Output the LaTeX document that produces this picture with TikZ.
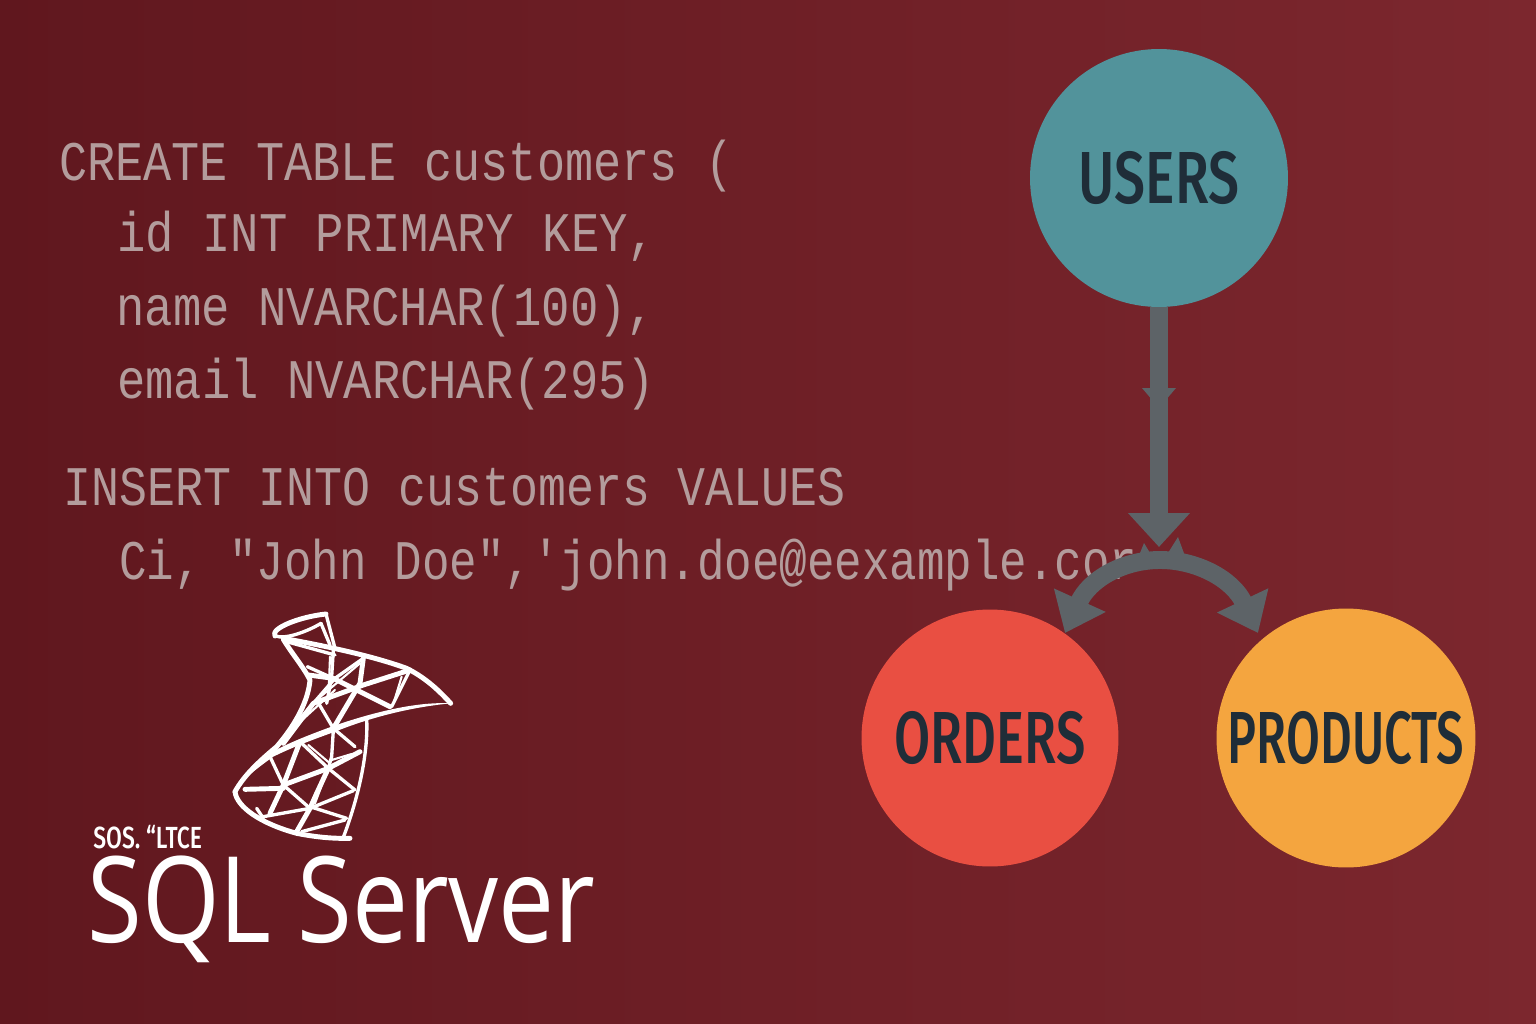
\documentclass[tikz,border=0pt]{standalone}
\usepackage{graphicx}
\usepackage{fontspec}
\usetikzlibrary{arrows.meta}
\newfontfamily\codefont{Liberation Mono}
\newfontfamily\labelfont{Fira Sans Medium}
\newfontfamily\brandfont{Open Sans}
\definecolor{bgleft}{HTML}{60171E}
\definecolor{bgmid}{HTML}{6E1F26}
\definecolor{bgright}{HTML}{7C272E}
\definecolor{codegrey}{HTML}{B39C9C}
\definecolor{flowgrey}{HTML}{5D6367}
\definecolor{labeldark}{HTML}{1F2D38}
\tikzset{
  codeline/.style={anchor=base west,inner sep=0pt,text=codegrey,font=\codefont\fontsize{26.5pt}{30pt}\selectfont},
  tablecircle/.style={circle,inner sep=0pt,outer sep=0pt,text=labeldark,font=\labelfont\fontsize{42pt}{46pt}\selectfont},
  flowline/.style={draw=flowgrey,line width=10.2pt},
  logoline/.style={draw=white,line width=1.9pt,line cap=round,line join=round},
  logothin/.style={draw=white,line width=1.2pt,line cap=round,line join=round},
  logothick/.style={draw=white,line width=2.8pt,line cap=round,line join=round},
}
\newcommand{\codetext}[2][1]{\scalebox{#1}[1.2]{#2}}
\begin{document}
\begin{tikzpicture}[x=0.02cm,y=-0.02cm]
\useasboundingbox (0,0) rectangle (1536,1024);
\shade[left color=bgleft,middle color=bgmid,right color=bgright] (0,0) rectangle (1536,1024);

\node[codeline] (line1) at (59,180) {\codetext[1.006]{CREATE TABLE customers (}};
\node[codeline] (line2) at (117,252) {\codetext[1.015]{id INT PRIMARY KEY,}};
\node[codeline] (line3) at (116,325) {\codetext[1.015]{name NVARCHAR(100),}};
\node[codeline] (line4) at (117,398) {\codetext[1.013]{email NVARCHAR(295)}};
\node[codeline] (line5) at (63,505) {\codetext{INSERT INTO customers VALUES}};
\node[codeline] (line6) at (119,579) {\codetext[0.985]{Ci, "John Doe",'john.doe@eexample.cor}};

\node[tablecircle,fill={rgb,255:red,82;green,147;blue,155},minimum size=5.16cm] (users) at (1159,178) {\scalebox{0.75}[1]{USERS}};
\node[tablecircle,fill={rgb,255:red,233;green,79;blue,66},minimum size=5.14cm] (orders) at (990,738) {\scalebox{0.71}[1]{ORDERS}};
\node[tablecircle,fill={rgb,255:red,244;green,165;blue,63},minimum size=5.18cm] (products) at (1346,738) {\scalebox{0.665}[1]{PRODUCTS}};

\coordinate (splitTip) at (1159,547);
\coordinate (ordersTip) at (1065,633);
\coordinate (arcTop) at (1160,560);
\coordinate (productsTip) at (1258,633);
\draw[flowline,-{Triangle[length=19.3pt,width=34pt]}] (users) -- (splitTip);
\fill[flowgrey] (1142,388) -- (1176,388) -- (1159,408) -- cycle;
\draw[flowline,{Triangle[length=20.5pt,width=31pt]}-{Triangle[length=20.5pt,width=31pt]}] (ordersTip) .. controls (1089,580) and (1122,560) .. (arcTop) .. controls (1198,560) and (1233,580) .. (productsTip);
\fill[flowgrey] (1140,553) -- (1144,543) -- (1150,553) -- cycle;
\fill[flowgrey] (1168,553) -- (1178,537) -- (1185,556) -- cycle;

\begin{scope}[shift={(220,600)},scale=1/3]
\draw[logothick] (165,108) .. controls (150,85) and (240,50) .. (318,42);
\draw[logoline] (165,108) .. controls (200,120) and (270,90) .. (303,70);
\draw[logoline] (318,42) -- (345,145);
\draw[logoline] (303,70) -- (330,135);
\draw[logothick] (190,115) .. controls (300,135) and (450,165) .. (560,205) .. controls (620,235) and (660,275) .. (692,310);
\draw[logoline] (200,125) -- (345,165);
\fill[white] (692,310) .. controls (600,305) and (480,330) .. (340,378) .. controls (280,400) and (200,430) .. (150,460) .. controls (100,495) and (60,530) .. (42,575) .. controls (60,545) and (110,505) .. (160,470) .. controls (220,440) and (290,415) .. (345,395) .. controls (470,345) and (590,320) .. (692,310) -- cycle;
\draw[logothick] (190,118) .. controls (215,160) and (250,200) .. (270,240) .. controls (265,300) and (230,370) .. (170,440) .. controls (110,490) and (70,530) .. (45,575);
\draw[logothick] (45,575) .. controls (50,620) and (120,670) .. (230,700) .. controls (290,712) and (340,716) .. (390,715);
\draw[logoline] (440,355) .. controls (445,450) and (420,580) .. (370,712);
\draw[logoline] (340,150) -- (335,230) -- (320,310);
\draw[logothin] (330,170) -- (325,300);
\draw[logothick] (430,175) -- (420,250) -- (340,385);
\draw[logoline] (430,175) -- (345,235) -- (215,385);
\draw[logothin] (420,190) -- (290,300);
\draw[logothin] (345,270) -- (230,375);
\draw[logothick] (265,225) -- (340,235) -- (510,320);
\draw[logoline] (262,200) -- (340,235);
\draw[logothick] (570,210) -- (430,255) -- (280,310) -- (190,430);
\draw[logoline] (570,210) -- (515,320);
\draw[logothin] (545,230) -- (522,305);
\draw[logoline] (290,300) -- (340,385) -- (405,440);
\draw[logoline] (340,390) -- (335,470) -- (325,505);
\draw[logothick] (240,425) -- (190,555) -- (150,640);
\draw[logoline] (150,470) -- (190,555) -- (270,625);
\draw[logoline] (240,425) -- (325,505) -- (405,570);
\draw[logothin] (265,435) -- (330,490);
\draw[logothick] (190,555) -- (325,505) -- (420,455);
\draw[logothin] (335,480) -- (395,462);
\draw[logothick] (325,505) -- (290,580) -- (270,625) -- (230,695);
\draw[logothin] (315,530) -- (285,610);
\draw[logoline] (130,650) -- (270,625) -- (400,572);
\draw[logoline] (270,620) -- (380,655);
\draw[logoline] (245,695) -- (375,660);
\draw[logothick] (75,568) -- (190,565);
\draw[logoline] (110,625) -- (130,655);
\end{scope}

\node[anchor=base west,inner sep=0pt,text=white,font=\labelfont\fontsize{17.4pt}{20pt}\selectfont] (edition) at (93,848) {\scalebox{0.75}[1]{SOS. “LTCE}};
\node[anchor=base west,inner sep=0pt,text=white,font=\brandfont\fontsize{68pt}{72pt}\selectfont] (brand) at (87,942) {\scalebox{0.835}[1]{SQL Server}};
\end{tikzpicture}
\end{document}
